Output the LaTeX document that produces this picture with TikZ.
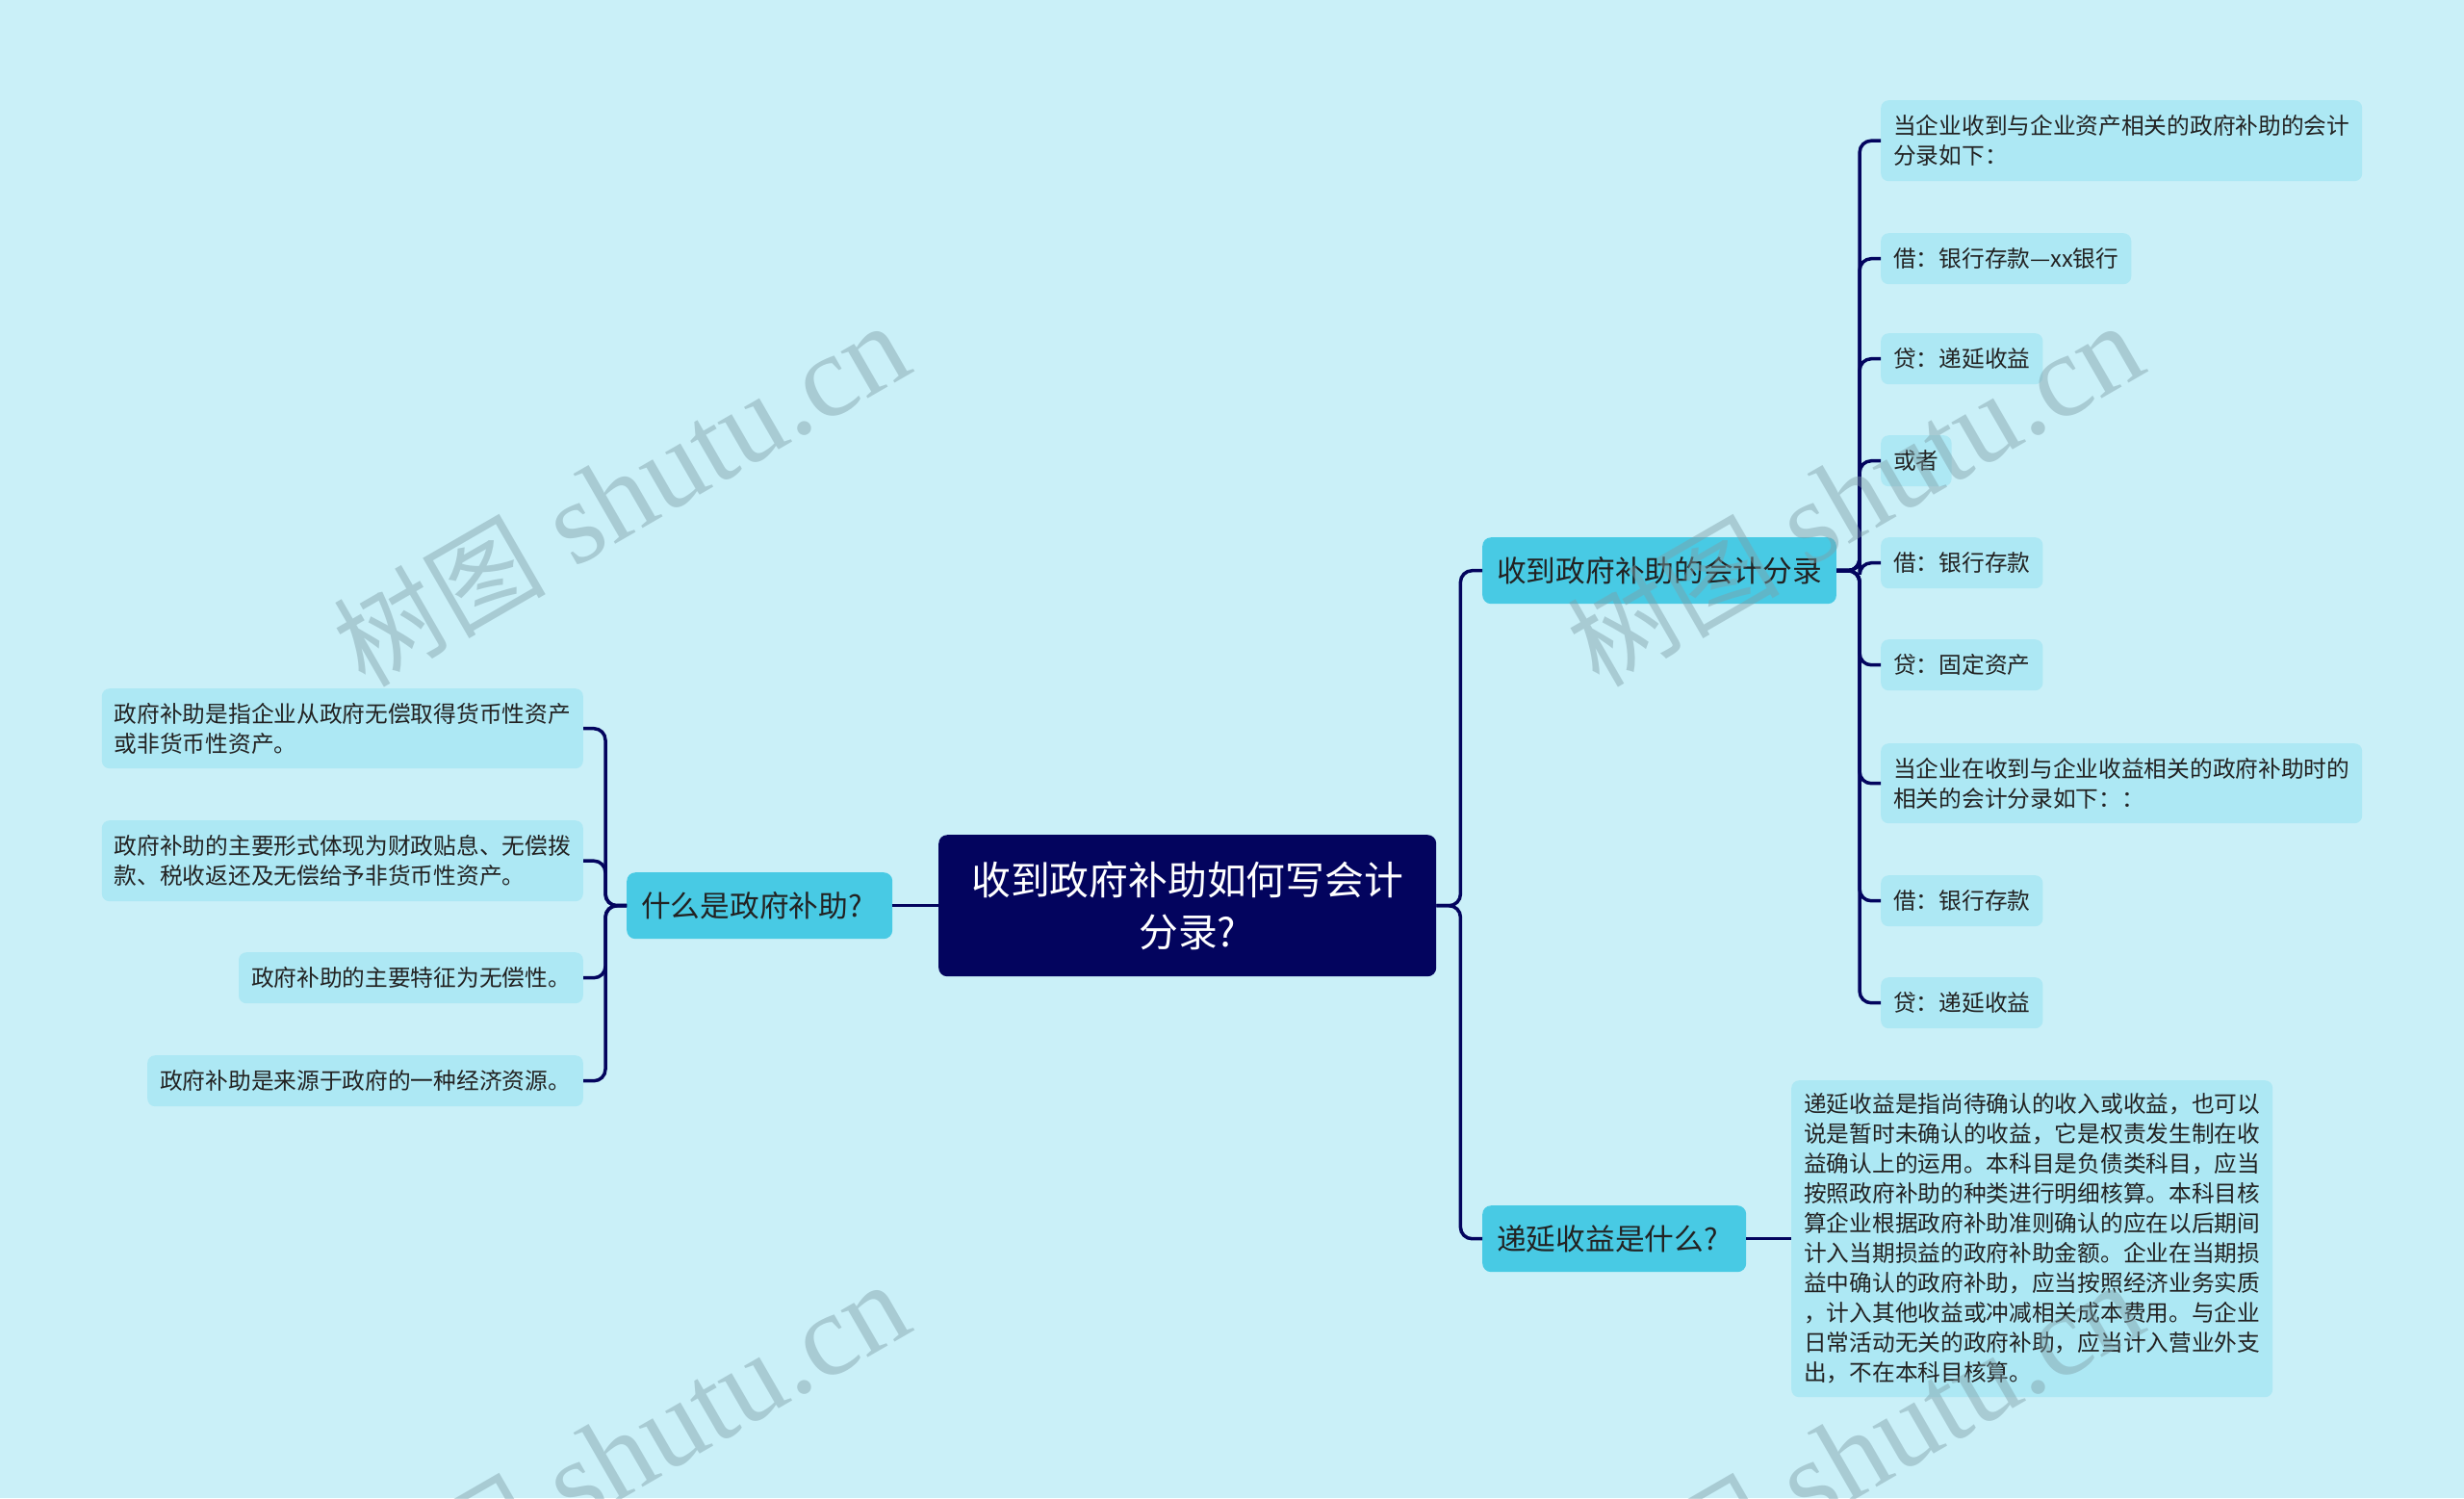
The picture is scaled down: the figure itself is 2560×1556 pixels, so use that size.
\documentclass[tikz,border=0pt]{standalone}
\usepackage{fontspec}
\newfontfamily\cjk{Noto Sans CJK SC}
\newfontfamily\wmserif{Liberation Serif}
\definecolor{bgc}{HTML}{CAF0F8}
\definecolor{rootc}{HTML}{03045E}
\definecolor{lonec}{HTML}{48CAE4}
\definecolor{ltwoc}{HTML}{ADE8F4}
\definecolor{linec}{HTML}{03045E}
\definecolor{txtc}{HTML}{222222}
\definecolor{wmc}{HTML}{7F9FA8}
\begin{document}
\begin{tikzpicture}[x=1pt,y=-1pt,
 rootnode/.style={fill=rootc, text=white, rounded corners=9pt, minimum width=517pt, minimum height=147pt, inner sep=0pt, align=center, font=\cjk\fontsize{40.8}{54}\selectfont, anchor=north west},
 lonenode/.style={fill=lonec, text=txtc, rounded corners=9pt, minimum height=69pt, inner xsep=15pt, inner ysep=0pt, align=left, anchor=north west, font=\cjk\fontsize{30.7}{40}\selectfont},
 ltwonode/.style={fill=ltwoc, text=txtc, rounded corners=8pt, inner xsep=13pt, inner ysep=0pt, align=left, minimum height=53pt, font=\cjk\fontsize{23.7}{31}\selectfont},
 link/.style={draw=linec, line width=3.5pt, rounded corners=12pt},
 wm/.style={text=wmc, text opacity=0.45, rotate=30, inner sep=0pt}
]
\fill[bgc] (0,0) rectangle (2560,1556);
\useasboundingbox (0,0) rectangle (2560,1556);

% root and level 1
\node[rootnode] (root) at (975,867) {收到政府补助如何写会计\\分录?};
\node[lonenode, text width=246pt] (A) at (651,906) {什么是政府补助?};
\node[lonenode] (B) at (1540,558) {收到政府补助的会计分录};
\node[lonenode, text width=244pt] (C) at (1540,1252) {递延收益是什么?};

% left children
\node[ltwonode, anchor=north east, minimum height=83pt] (l1) at (606,715) {政府补助是指企业从政府无偿取得货币性资产\\或非货币性资产。};
\node[ltwonode, anchor=north east, minimum height=84pt] (l2) at (606,852) {政府补助的主要形式体现为财政贴息、无偿拨\\款、税收返还及无偿给予非货币性资产。};
\node[ltwonode, anchor=north east] (l3) at (606,989) {政府补助的主要特征为无偿性。};
\node[ltwonode, anchor=north east] (l4) at (606,1096) {政府补助是来源于政府的一种经济资源。};

% right children
\node[ltwonode, anchor=north west, minimum height=84pt] (r1) at (1954,104) {当企业收到与企业资产相关的政府补助的会计\\分录如下：};
\node[ltwonode, anchor=north west] (r2) at (1954,242) {借：银行存款—xx银行};
\node[ltwonode, anchor=north west] (r3) at (1954,346) {贷：递延收益};
\node[ltwonode, anchor=north west] (r4) at (1954,452) {或者};
\node[ltwonode, anchor=north west] (r5) at (1954,558) {借：银行存款};
\node[ltwonode, anchor=north west] (r6) at (1954,664) {贷：固定资产};
\node[ltwonode, anchor=north west, minimum height=83pt] (r7) at (1954,772) {当企业在收到与企业收益相关的政府补助时的\\相关的会计分录如下：：};
\node[ltwonode, anchor=north west] (r8) at (1954,909) {借：银行存款};
\node[ltwonode, anchor=north west] (r9) at (1954,1015) {贷：递延收益};

\node[ltwonode, anchor=north west, minimum height=329pt] (d1) at (1861,1122) {递延收益是指尚待确认的收入或收益，也可以\\说是暂时未确认的收益，它是权责发生制在收\\益确认上的运用。本科目是负债类科目，应当\\按照政府补助的种类进行明细核算。本科目核\\算企业根据政府补助准则确认的应在以后期间\\计入当期损益的政府补助金额。企业在当期损\\益中确认的政府补助，应当按照经济业务实质\\，计入其他收益或冲减相关成本费用。与企业\\日常活动无关的政府补助，应当计入营业外支\\出，不在本科目核算。};

% connectors
\draw[link] (root.west) -- (A.east);
\draw[link] (root.east) -- ++(25,0) |- (B.west);
\draw[link] (root.east) -- ++(25,0) |- (C.west);
\foreach \n in {l1,l2,l3,l4} {\draw[link] (A.west) -- ++(-22,0) |- (\n.east);}
\foreach \n in {r1,r2,r3,r4,r5,r6,r7,r8,r9} {\draw[link] (B.east) -- ++(24,0) |- (\n.west);}
\draw[link] (C.east) -- (d1.west);

% watermarks
\begin{scope}
\clip (0,0) rectangle (2560,1556);
\node[wm] (w1) at (645,514) {{\cjk\fontsize{110}{110}\selectfont 树图}{\wmserif\fontsize{122}{122}\selectfont\ shutu.cn}};
\node[wm] (w2) at (1927,514) {{\cjk\fontsize{110}{110}\selectfont 树图}{\wmserif\fontsize{122}{122}\selectfont\ shutu.cn}};
\node[wm] (w3) at (645,1510) {{\cjk\fontsize{110}{110}\selectfont 树图}{\wmserif\fontsize{122}{122}\selectfont\ shutu.cn}};
\node[wm] (w4) at (1927,1510) {{\cjk\fontsize{110}{110}\selectfont 树图}{\wmserif\fontsize{122}{122}\selectfont\ shutu.cn}};
\end{scope}
\end{tikzpicture}
\end{document}
